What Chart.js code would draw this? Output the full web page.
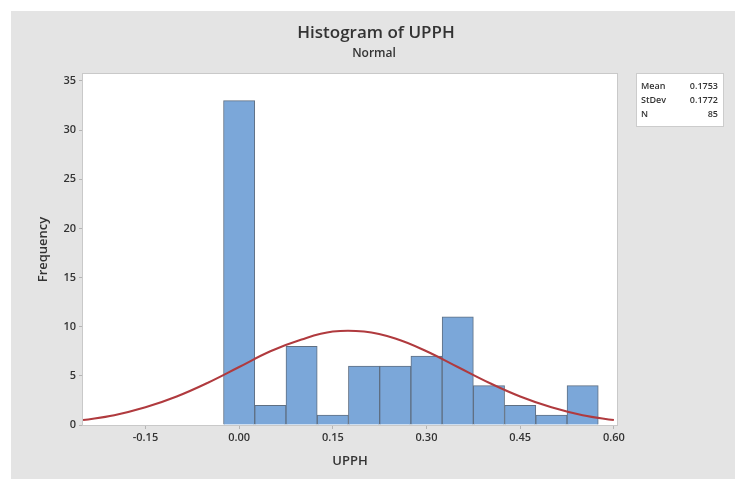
<!DOCTYPE html>
<html>
<head>
<meta charset="utf-8">
<script src="https://cdn.jsdelivr.net/npm/chart.js@4.4.1/dist/chart.umd.min.js"></script>
<style>
  html, body { margin: 0; padding: 0; background: #ffffff; }
  #wrap { width: 735px; height: 479px; position: relative; }
</style>
</head>
<body>
<div id="wrap"><canvas id="chart"></canvas></div>
<script>
// bin midpoints and counts
const binCenters = [0.00, 0.05, 0.10, 0.15, 0.20, 0.25, 0.30, 0.35, 0.40, 0.45, 0.50, 0.55];
const binCounts  = [33, 2, 8, 1, 6, 6, 7, 11, 4, 2, 1, 4];

// fitted normal curve
const curveX = [-0.25, -0.20, -0.15, -0.10, -0.05, 0.00, 0.05, 0.10, 0.15, 0.20, 0.25, 0.30, 0.35, 0.40, 0.45, 0.50, 0.55, 0.60];
const curveY = [0.5, 1.0, 1.8, 2.9, 4.3, 5.9, 7.5, 8.7, 9.5, 9.5, 8.8, 7.5, 5.9, 4.3, 2.9, 1.8, 1.0, 0.5];

const xTicks = [-0.15, 0.00, 0.15, 0.30, 0.45, 0.60];
const yTicks = [0, 5, 10, 15, 20, 25, 30, 35];

const statLabels = ["Mean", "StDev", "N"];
const statValues = ["0.1753", "0.1772", "85"];

const FONT = "'Open Sans', 'Noto Sans', sans-serif";
const TEXT = "#333333";

// gray panel, white plot box, titles and the stats box
const decor = {
  id: "decor",
  beforeDraw(chart) {
    const ctx = chart.ctx, a = chart.chartArea;
    ctx.save();
    ctx.fillStyle = "#e4e4e4";
    ctx.fillRect(11, 11, chart.width - 11, chart.height - 11);
    ctx.fillStyle = "#ffffff";
    ctx.fillRect(a.left, a.top, a.right - a.left, a.bottom - a.top);
    ctx.restore();
  },
  afterDraw(chart) {
    const ctx = chart.ctx, a = chart.chartArea;
    ctx.save();
    ctx.strokeStyle = "#c9c9c9";
    ctx.lineWidth = 1;
    ctx.strokeRect(a.left - 0.5, a.top - 0.5, a.right - a.left + 1, a.bottom - a.top + 1);

    ctx.fillStyle = TEXT;
    ctx.textAlign = "center";
    ctx.textBaseline = "middle";
    ctx.font = "600 17px " + FONT;
    ctx.fillText("Histogram of UPPH", 376, 33);
    ctx.font = "600 12px " + FONT;
    ctx.fillText("Normal", 374, 54);

    // stats box
    ctx.fillStyle = "#ffffff";
    ctx.fillRect(636, 73, 87, 53);
    ctx.strokeStyle = "#cccccc";
    ctx.strokeRect(636.5, 73.5, 87, 53);
    ctx.fillStyle = TEXT;
    ctx.font = "600 9px " + FONT;
    statLabels.forEach(function(lab, i) {
      const y = 86 + i * 14;
      ctx.textAlign = "left";
      ctx.fillText(lab, 641, y);
      ctx.textAlign = "right";
      ctx.fillText(statValues[i], 718, y);
    });
    ctx.restore();
  }
};

new Chart(document.getElementById("chart"), {
  data: {
    datasets: [
      {
        type: "line",
        data: curveX.map((x, i) => ({ x: x, y: curveY[i] })),
        borderColor: "#b03a3e",
        borderWidth: 2,
        pointRadius: 0,
        tension: 0.4,
        fill: false,
        order: 0
      },
      {
        type: "bar",
        data: binCenters.map((x, i) => ({ x: x, y: binCounts[i] })),
        backgroundColor: "#7ba7d9",
        borderColor: "#5f6f82",
        borderWidth: 1,
        barPercentage: 1,
        categoryPercentage: 1,
        grouped: false,
        order: 1
      }
    ]
  },
  options: {
    responsive: true,
    maintainAspectRatio: false,
    animation: false,
    layout: { padding: { left: 33, right: 118, top: 74, bottom: 6 } },
    plugins: { legend: { display: false }, tooltip: { enabled: false } },
    scales: {
      x: {
        type: "linear",
        offset: false,
        min: -0.25,
        max: 0.605,
        afterBuildTicks: function(scale) { scale.ticks = xTicks.map(v => ({ value: v })); },
        afterFit: function(scale) { scale.height = 48; },
        grid: { drawOnChartArea: false, tickLength: 4, color: "#b5b5b5", offset: false },
        border: { display: false },
        ticks: {
          padding: 2,
          color: TEXT,
          font: { family: FONT, size: 11, weight: "600" },
          callback: v => v.toFixed(2)
        },
        title: {
          display: true,
          text: "UPPH",
          color: TEXT,
          font: { family: FONT, size: 13, weight: "600" },
          padding: { top: 2, bottom: 4 }
        }
      },
      y: {
        min: 0,
        max: 35.7,
        afterBuildTicks: function(scale) { scale.ticks = yTicks.map(v => ({ value: v })); },
        afterFit: function(scale) { scale.width = 50; },
        grid: { drawOnChartArea: false, tickLength: 4, color: "#b5b5b5" },
        border: { display: false },
        ticks: {
          padding: 3,
          color: TEXT,
          font: { family: FONT, size: 11, weight: "600" }
        },
        title: {
          display: true,
          text: "Frequency",
          color: TEXT,
          font: { family: FONT, size: 13, weight: "600" },
          padding: { top: 2, bottom: 2 }
        }
      }
    }
  },
  plugins: [decor]
});
</script>
</body>
</html>
